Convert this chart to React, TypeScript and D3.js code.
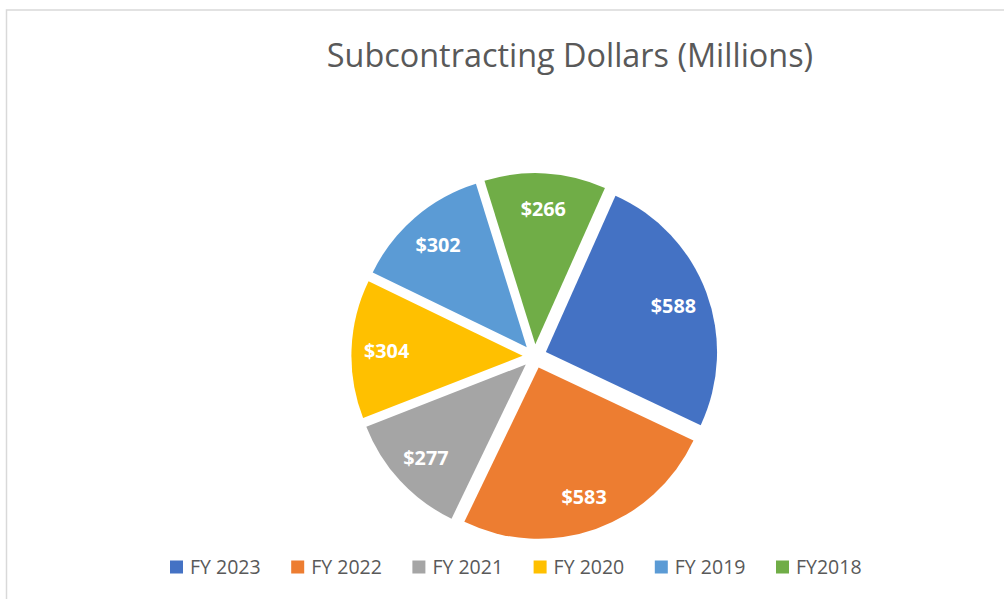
import React, { useRef, useEffect } from "react";
import * as d3 from "d3";

const categories = ["FY 2023", "FY 2022", "FY 2021", "FY 2020", "FY 2019", "FY2018"];
const values = [588, 583, 277, 304, 302, 266];
const labels = ["$588", "$583", "$277", "$304", "$302", "$266"];
const colors = ["#4472C4", "#ED7D31", "#A5A5A5", "#FFC000", "#5B9BD5", "#70AD47"];

const App: React.FC = () => {
  const ref = useRef<SVGSVGElement>(null);

  useEffect(() => {
    const svg = d3.select(ref.current);
    svg.selectAll("*").remove();

    const width = 1004,
      height = 599;
    const cx = 534.6,
      cy = 356.3,
      radius = 171.2,
      explode = 12;

    svg.append("rect").attr("width", width).attr("height", height).attr("fill", "#fff");

    // chart border (runs off the right and bottom edge)
    svg
      .append("rect")
      .attr("x", 6.5)
      .attr("y", 10)
      .attr("width", 1100)
      .attr("height", 700)
      .attr("fill", "none")
      .attr("stroke", "#d9d9d9")
      .attr("stroke-width", 1.5);

    // Title
    svg
      .append("text")
      .attr("x", 570)
      .attr("y", 67)
      .attr("text-anchor", "middle")
      .style("font-family", "'Open Sans', sans-serif")
      .style("font-size", "32.4px")
      .style("fill", "#595959")
      .text("Subcontracting Dollars (Millions)");

    const start = (24 * Math.PI) / 180;
    const pie = d3
      .pie<number>()
      .sort(null)
      .value((d) => d)
      .startAngle(start)
      .endAngle(start + 2 * Math.PI);
    const arcs = pie(values);

    const arc = d3.arc<d3.PieArcDatum<number>>().innerRadius(0).outerRadius(radius);

    const g = svg.append("g").attr("transform", `translate(${cx},${cy})`);

    const slice = g
      .selectAll("g.slice")
      .data(arcs)
      .enter()
      .append("g")
      .attr("class", "slice")
      .attr("transform", (d) => {
        const mid = (d.startAngle + d.endAngle) / 2;
        return `translate(${explode * Math.sin(mid)},${-explode * Math.cos(mid)})`;
      });

    slice
      .append("path")
      .attr("d", arc)
      .attr("fill", (_, i) => colors[i]);

    // Data labels
    slice
      .append("text")
      .attr("x", (d) => 0.795 * radius * Math.sin((d.startAngle + d.endAngle) / 2))
      .attr("y", (d) => -0.795 * radius * Math.cos((d.startAngle + d.endAngle) / 2))
      .attr("dy", "0.4em")
      .attr("text-anchor", "middle")
      .style("font-family", "'Open Sans', sans-serif")
      .style("font-weight", "bold")
      .style("font-size", "19.8px")
      .style("fill", "#fff")
      .text((_, i) => labels[i]);

    // Legend
    const legendX = d3.scaleLinear().domain([0, categories.length - 1]).range([170, 776]);
    const legend = svg
      .append("g")
      .selectAll("g")
      .data(categories)
      .enter()
      .append("g")
      .attr("transform", (_, i) => `translate(${legendX(i)},567)`);

    legend
      .append("rect")
      .attr("x", 0)
      .attr("y", -6.5)
      .attr("width", 13)
      .attr("height", 13)
      .attr("fill", (_, i) => colors[i]);

    legend
      .append("text")
      .attr("x", 20)
      .attr("y", 0)
      .attr("dy", "0.36em")
      .style("font-family", "'Open Sans', sans-serif")
      .style("font-size", "19.5px")
      .style("fill", "#595959")
      .text((d) => d);
  }, []);

  return (
    <svg
      ref={ref}
      width={1004}
      height={599}
      style={{ position: "absolute", left: 0, top: 0, overflow: "hidden" }}
    />
  );
};

export default App;
